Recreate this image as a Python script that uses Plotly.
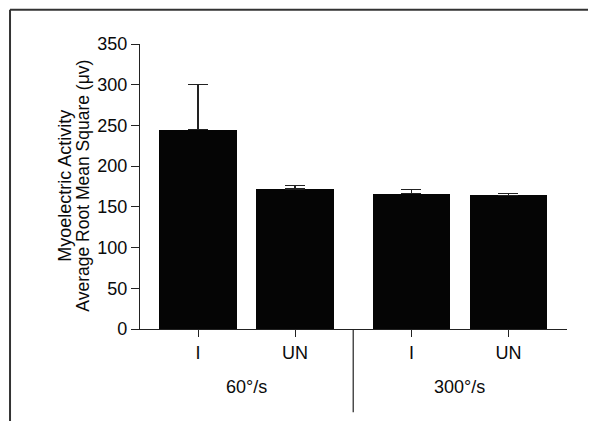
import plotly.graph_objects as go

# ---- data ----
groups = ["60°/s", "300°/s"]
conditions = ["I", "UN"]
tick_labels = ["I", "UN", "I", "UN"]
means = [245, 172, 166, 164]
sem = [55, 4, 5, 2.5]
y_title_line1 = "Myoelectric Activity"
y_title_line2 = "Average Root Mean Square (μv)"

# positions: two groups of two bars with a wider gap between groups
group_gap = 1.2
xpos = []
for g in range(len(groups)):
    for c in range(len(conditions)):
        xpos.append(g * (len(conditions) - 1 + group_gap) + c)

FONT = "Liberation Sans, Arial, Helvetica, sans-serif"
TXT = "#0a0a0a"
FS = 18

fig = go.Figure()
fig.add_trace(go.Bar(
    x=xpos, y=means, width=0.8,
    marker=dict(color="#050505", line=dict(width=0)),
    error_y=dict(type="data", symmetric=False, array=sem,
                 arrayminus=[0] * len(sem), color="#222222",
                 thickness=1.3, width=10),
    showlegend=False,
))

xmin, xmax = -0.598, 3.804
fig.update_layout(
    width=596, height=421,
    margin=dict(l=132, r=37, t=36, b=100),
    paper_bgcolor="white", plot_bgcolor="white",
    font=dict(family=FONT, size=FS, color=TXT),
    bargap=0,
    xaxis=dict(range=[xmin, xmax], tickmode="array", tickvals=xpos,
               ticktext=tick_labels, ticks="outside", ticklen=7,
               tickcolor="#222", tickwidth=1.2, showline=True,
               linecolor="#222", linewidth=1.2, showgrid=False,
               zeroline=False, tickfont=dict(size=FS, color=TXT)),
    yaxis=dict(range=[0, 350], tickmode="linear", tick0=0, dtick=50,
               ticks="outside", ticklen=8, tickcolor="#222", tickwidth=1.2,
               showline=True, linecolor="#222", linewidth=1.2,
               showgrid=False, zeroline=False,
               tickfont=dict(size=FS, color=TXT)),
)

# group labels
group_centers = []
for g in range(len(groups)):
    xs = xpos[g * len(conditions):(g + 1) * len(conditions)]
    group_centers.append(sum(xs) / len(xs))
for label, xc in zip(groups, group_centers):
    fig.add_annotation(x=xc, y=-0.2025, xref="x", yref="paper",
                       text=label, showarrow=False,
                       font=dict(size=FS, color=TXT),
                       xanchor="center", yanchor="middle")

# divider between the groups
div_x = (xpos[len(conditions) - 1] + xpos[len(conditions)]) / 2
fig.add_shape(type="line", xref="x", yref="paper", x0=div_x, x1=div_x,
              y0=0, y1=-0.292, line=dict(color="#222", width=1.2))

# y-axis title (two lines)
fig.add_annotation(x=-0.1756, y=0.503, xref="paper", yref="paper",
                   text=y_title_line1, textangle=-90, showarrow=False,
                   font=dict(size=18, color=TXT),
                   xanchor="center", yanchor="middle")
fig.add_annotation(x=-0.1335, y=0.503, xref="paper", yref="paper",
                   text=y_title_line2, textangle=-90, showarrow=False,
                   font=dict(size=17.5, color=TXT),
                   xanchor="center", yanchor="middle")

# outer frame (top and left edges)
fig.add_shape(type="line", xref="paper", yref="paper",
              x0=-0.3044, x1=1.1, y0=1.1204, y1=1.1204,
              line=dict(color="#333", width=2))
fig.add_shape(type="line", xref="paper", yref="paper",
              x0=-0.3044, x1=-0.3044, y0=1.1204, y1=-0.36,
              line=dict(color="#333", width=2))

fig.write_html("out.html")
